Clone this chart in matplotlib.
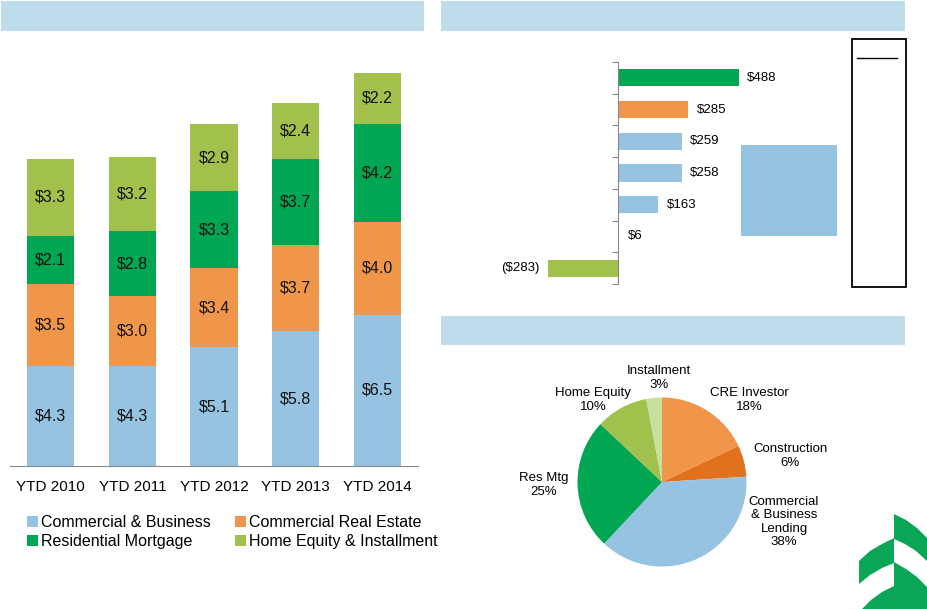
import matplotlib
matplotlib.use("Agg")
import matplotlib.pyplot as plt
import numpy as np
from matplotlib.patches import Rectangle, Polygon

plt.rcParams['font.family'] = ['Liberation Sans', 'DejaVu Sans']

# ---------------- data ----------------
years = ["YTD 2010", "YTD 2011", "YTD 2012", "YTD 2013", "YTD 2014"]
commercial_business = [4.3, 4.3, 5.1, 5.8, 6.5]
commercial_real_estate = [3.5, 3.0, 3.4, 3.7, 4.0]
residential_mortgage = [2.1, 2.8, 3.3, 3.7, 4.2]
home_equity_installment = [3.3, 3.2, 2.9, 2.4, 2.2]
stack_names = ["Commercial & Business", "Commercial Real Estate",
               "Residential Mortgage", "Home Equity & Installment"]

change_values = [488, 285, 259, 258, 163, 6, -283]

pie_names = ["CRE Investor", "Construction", "Commercial\n& Business\nLending",
             "Res Mtg", "Home Equity", "Installment"]
pie_pcts = [18, 6, 38, 25, 10, 3]

# ---------------- style ----------------
C_BLUE = "#95C3E1"
C_ORANGE = "#F0964B"
C_GREEN = "#00A651"
C_LGREEN = "#A1C04C"
C_DORANGE = "#E2711D"
C_PALE = "#C8DF9E"
C_HEAD = "#BFDCEC"
W, H = 927, 609

fig = plt.figure(figsize=(W / 100, H / 100), dpi=100)


def box(x0, y0, x1, y1):
    return [x0 / W, 1 - y1 / H, (x1 - x0) / W, (y1 - y0) / H]


def P(x, y):
    return (x / W, 1 - y / H)


# header bars
for (x0, y0, x1, y1) in [(1, 1, 424, 31), (441, 1, 905, 31), (441, 316, 905, 345)]:
    fig.add_artist(Rectangle(P(x0, y1), (x1 - x0) / W, (y1 - y0) / H,
                             transform=fig.transFigure, color=C_HEAD, lw=0))

# ---------------- left stacked bars ----------------
ax = fig.add_axes(box(10, 40, 418, 466))
series = [commercial_business, commercial_real_estate, residential_mortgage, home_equity_installment]
colors = [C_BLUE, C_ORANGE, C_GREEN, C_LGREEN]
x = np.arange(len(years))
bottom = np.zeros(len(years))
handles = []
for vals, col, name in zip(series, colors, stack_names):
    vals = np.array(vals)
    b = ax.bar(x, vals, width=0.576, bottom=bottom, color=col, label=name)
    handles.append(b)
    for xi, bi, vi in zip(x, bottom, vals):
        ax.text(xi, bi + vi / 2, f"${vi:.1f}", ha="center", va="center",
                fontsize=11.5, color="#111111")
    bottom = bottom + vals
ax.set_xlim(-0.5, len(years) - 0.5)
ax.set_ylim(0, 426 / 23.27)
for s in ["top", "right", "left"]:
    ax.spines[s].set_visible(False)
ax.spines["bottom"].set_color("#888888")
ax.set_yticks([])
ax.set_xticks(x)
ax.set_xticklabels(years, fontsize=11)
ax.tick_params(axis="x", length=0, pad=10)

# legend filled row by row: reorder for matplotlib's column-major filling
order = [0, 2, 1, 3]
leg = fig.legend(handles=[handles[i] for i in order],
                 labels=[stack_names[i] for i in order], ncol=2, frameon=False,
                 loc="upper left", bbox_to_anchor=P(27, 515),
                 fontsize=11.5, handlelength=0.7, handleheight=0.7,
                 handletextpad=0.15, columnspacing=1.55, labelspacing=0.25,
                 borderpad=0, borderaxespad=0)

# ---------------- right horizontal bars ----------------
ax2 = fig.add_axes(box(440, 62, 850, 284))
scale = 0.248
ax2.set_xlim(-(617.7 - 440) / scale, (850 - 617.7) / scale)
ax2.set_ylim(len(change_values) - 0.5, -0.5)
bcolors = [C_GREEN, C_ORANGE, C_BLUE, C_BLUE, C_BLUE, C_BLUE, C_LGREEN]
yy = np.arange(len(change_values))
ax2.barh(yy, change_values, height=0.54, color=bcolors)
for yi, v in zip(yy, change_values):
    if v >= 0:
        ax2.annotate(f"${v}", (v, yi), xytext=(6, 0), textcoords="offset points",
                     ha="left", va="center", fontsize=9.5)
    else:
        ax2.annotate(f"(${-v})", (v, yi), xytext=(-6, 0), textcoords="offset points",
                     ha="right", va="center", fontsize=9.5)
for s in ["top", "right", "bottom"]:
    ax2.spines[s].set_visible(False)
ax2.spines["left"].set_position(("data", 0))
ax2.spines["left"].set_color("#888888")
ax2.set_xticks([])
ax2.set_yticks(np.arange(-0.5, len(change_values), 1))
ax2.set_yticklabels([])
ax2.tick_params(axis="y", length=4, color="#888888", direction="out")
ax2.patch.set_alpha(0)

# blue block and outlined box
fig.add_artist(Rectangle(P(741, 236), 96 / W, 91 / H, transform=fig.transFigure,
                         color=C_BLUE, lw=0))
fig.add_artist(Rectangle(P(852, 287), 54 / W, 248 / H, transform=fig.transFigure,
                         facecolor="none", edgecolor="black", lw=1.3))
fig.add_artist(plt.Line2D([857 / W, 897 / W], [1 - 58 / H, 1 - 58 / H],
                          transform=fig.transFigure, color="black", lw=1))

# ---------------- pie ----------------
cx, cy, r = 662, 482, 84.5
ax3 = fig.add_axes(box(cx - r, cy - r, cx + r, cy + r))
pcolors = [C_ORANGE, C_DORANGE, C_BLUE, C_GREEN, C_LGREEN, C_PALE]
ax3.pie(pie_pcts, colors=pcolors, startangle=90, counterclock=False, radius=1,
        wedgeprops=dict(linewidth=0))
ax3.set_xlim(-1, 1)
ax3.set_ylim(-1, 1)
ax3.set_aspect("equal")
label_px = [(749, 400), (790, 456), (784, 522), (544, 485), (593, 400), (659, 378)]
for name, pct, (lx, ly) in zip(pie_names, pie_pcts, label_px):
    ax3.text((lx - cx) / r, (cy - ly) / r, f"{name}\n{pct}%", ha="center", va="center",
             fontsize=9.5, linespacing=1.15, clip_on=False, multialignment="center")

# ---------------- logo ----------------
LG = "#0AA656"
logo = [
    [(894, 514), (906, 520), (917, 528), (927, 538), (927, 561), (916, 551), (905, 544), (894, 539)],
    [(894, 538), (894, 563), (882, 568), (870, 575), (859, 584), (859, 561), (870, 551), (882, 544)],
    [(894, 562), (906, 569), (917, 577), (927, 587), (927, 609), (894, 609)],
    [(894, 586), (894, 609), (862, 609), (871, 600), (882, 592)],
]
for poly in logo:
    fig.add_artist(Polygon([P(a, b) for a, b in poly], closed=True,
                           transform=fig.transFigure, color=LG, lw=0))

fig.savefig("out.png", dpi=100)
